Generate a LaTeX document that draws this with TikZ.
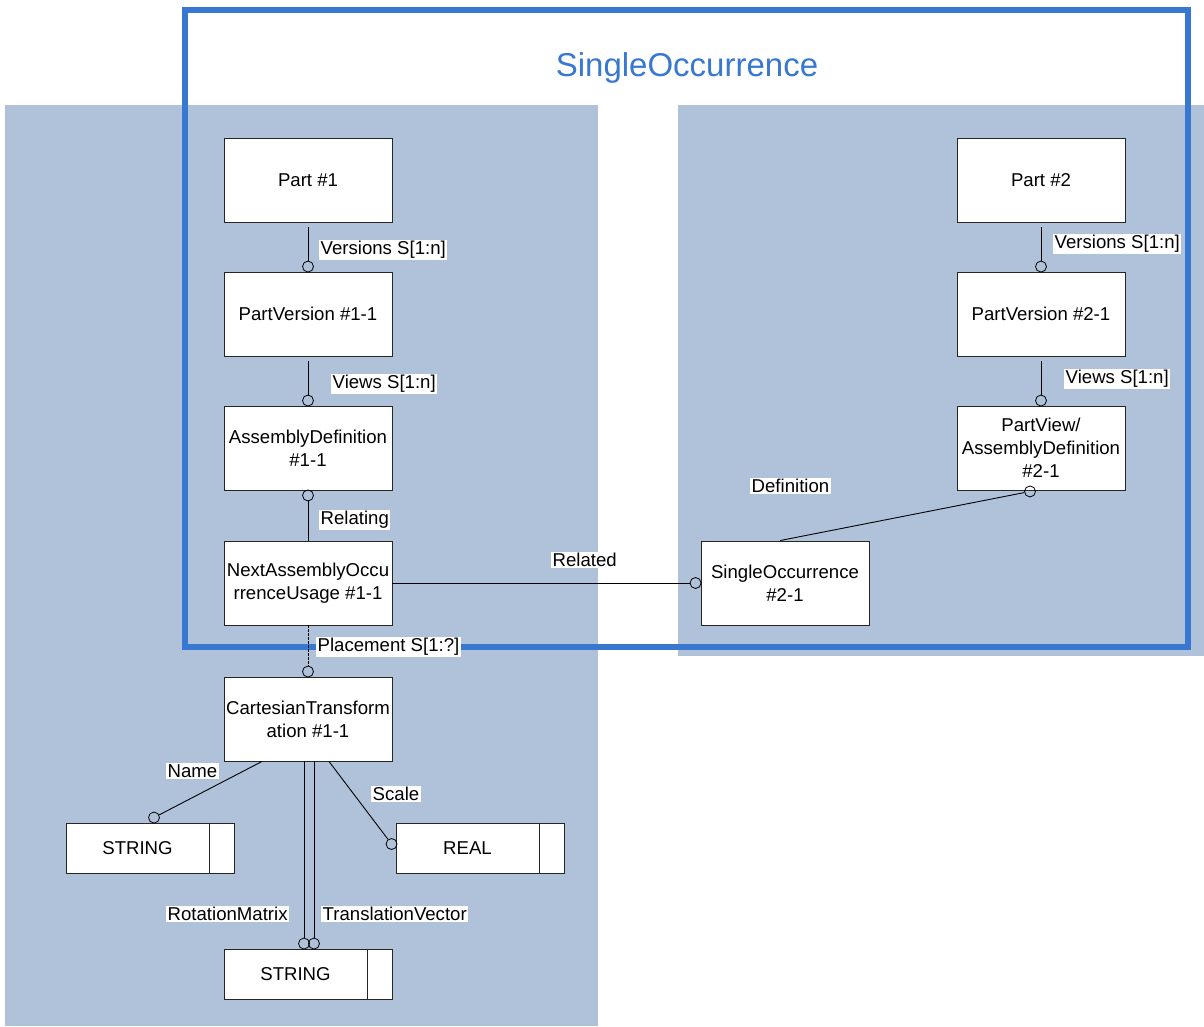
\documentclass[tikz,border=0pt]{standalone}
\usepackage{fontspec}
\setmainfont{Liberation Sans}
\begin{document}
\begin{tikzpicture}[x=1pt,y=-1pt,
  every node/.style={font=\fontsize{18.6}{23}\selectfont},
  box/.style={draw=black!85, line width=0.9pt, fill=white, minimum width=168pt, minimum height=84pt, inner sep=0pt, align=center},
  tbox/.style={draw=black!85, line width=0.9pt, fill=white, minimum width=168pt, minimum height=50pt, inner sep=0pt},
  ocirc/.style={draw=black, line width=0.8pt, circle, minimum size=11pt, inner sep=0pt},
  conn/.style={draw=black, line width=0.9pt},
  lbl/.style={fill=white, inner sep=1.5pt},
  panel/.style={fill=panelblue, draw=none}
]
\definecolor{panelblue}{RGB}{176,194,218}
\definecolor{frameblue}{RGB}{56,120,208}
% canvas
\fill[white] (0,0) rectangle (1204,1026);
\useasboundingbox (0,0) rectangle (1204,1026);
% panels
\fill[panelblue] (5,105) rectangle (598,1026);
\fill[panelblue] (678,105) rectangle (1204,656);
% frame
\draw[frameblue, line width=6pt] (185,10) rectangle (1188,647);
\node[text=frameblue, font=\fontsize{33}{38}\selectfont] (title) at (687,68) {SingleOccurrence};
% left boxes
\node[box] (p1) at (308,180) {Part \#1};
\node[box] (pv1) at (308,314) {PartVersion \#1-1};
\node[box] (ad1) at (308,448) {AssemblyDefinition\\\#1-1};
\node[box] (nu1) at (308,583) {NextAssemblyOccu\\rrenceUsage \#1-1};
\node[box] (ct1) at (308,719) {CartesianTransform\\ation \#1-1};
\node[tbox] (sL) at (150,848) {};
\node[tbox] (rl) at (480,848) {};
\node[tbox] (sB) at (308,974) {};
\draw[black!85, line width=0.9pt] ([xshift=-25pt]sL.north east) -- ([xshift=-25pt]sL.south east);
\draw[black!85, line width=0.9pt] ([xshift=-25pt]rl.north east) -- ([xshift=-25pt]rl.south east);
\draw[black!85, line width=0.9pt] ([xshift=-25pt]sB.north east) -- ([xshift=-25pt]sB.south east);
\node (sLt) at ([xshift=-12.5pt]sL.center) {STRING};
\node (rlt) at ([xshift=-12.5pt]rl.center) {REAL};
\node (sBt) at ([xshift=-12.5pt]sB.center) {STRING};
% right boxes
\node[box] (p2) at (1041,180) {Part \#2};
\node[box] (pv2) at (1041,314) {PartVersion \#2-1};
\node[box] (pd2) at (1041,448) {PartView/\\AssemblyDefinition\\\#2-1};
\node[box] (so2) at (785,583) {SingleOccurrence\\\#2-1};
% circles
\node[ocirc] (c1) at ([yshift=5pt]pv1.north) {};
\node[ocirc] (c2) at ([yshift=5pt]ad1.north) {};
\node[ocirc] (c3) at ([yshift=-5pt]ad1.south) {};
\node[ocirc] (c4) at ([yshift=5pt]ct1.north) {};
\node[ocirc] (c5) at ([xshift=-5pt]so2.west) {};
\node[ocirc] (c6) at ([yshift=5pt]pv2.north) {};
\node[ocirc] (c7) at ([yshift=5pt]pd2.north) {};
\node[ocirc] (c8) at ([xshift=-11pt,yshift=-1pt]pd2.south) {};
\node[ocirc] (c9) at ([xshift=4pt,yshift=5pt]sL.north) {};
\node[ocirc] (c10) at ([xshift=-4pt,yshift=4pt]rl.west) {};
\node[ocirc] (c11) at ([xshift=-4pt,yshift=5pt]sB.north) {};
\node[ocirc] (c12) at ([xshift=6pt,yshift=5pt]sB.north) {};
% connectors
\draw[conn] ([yshift=-5pt]p1.south) -- (c1);
\draw[conn] ([yshift=-5pt]pv1.south) -- (c2);
\draw[conn] (c3) -- (nu1.north);
\draw[conn, dash pattern=on 3pt off 1pt] (nu1.south) -- (c4);
\draw[conn] (nu1.east) -- (c5);
\draw[conn] ([yshift=-5pt]p2.south) -- (c6);
\draw[conn] ([yshift=-5pt]pv2.south) -- (c7);
\draw[conn] ([xshift=-5pt]so2.north) -- (c8);
\draw[conn] ([xshift=-46pt]ct1.south) -- (c9);
\draw[conn] ([xshift=21pt]ct1.south) -- (c10);
\draw[conn] ([xshift=-4pt]ct1.south) -- (c11);
\draw[conn] ([xshift=6pt]ct1.south) -- (c12);
% labels
\node[lbl, anchor=west] (l1) at (319,250) {Versions S[1:n]};
\node[lbl, anchor=west] (l2) at (331,384) {Views S[1:n]};
\node[lbl, anchor=west] (l3) at (319,520) {Relating};
\node[lbl, anchor=west] (l4) at (316,647) {Placement S[1:?]};
\node[lbl, anchor=west] (l5) at (551,560) {Related};
\node[lbl, anchor=west] (l6) at (1053,244) {Versions S[1:n]};
\node[lbl, anchor=west] (l7) at (1064,379) {Views S[1:n]};
\node[lbl, anchor=west] (l8) at (750,486) {Definition};
\node[lbl, anchor=west] (l9) at (166,771) {Name};
\node[lbl, anchor=west] (l10) at (371,794) {Scale};
\node[lbl, anchor=west] (l11) at (166,914) {RotationMatrix};
\node[lbl, anchor=west] (l12) at (321,914) {TranslationVector};
\end{tikzpicture}
\end{document}
